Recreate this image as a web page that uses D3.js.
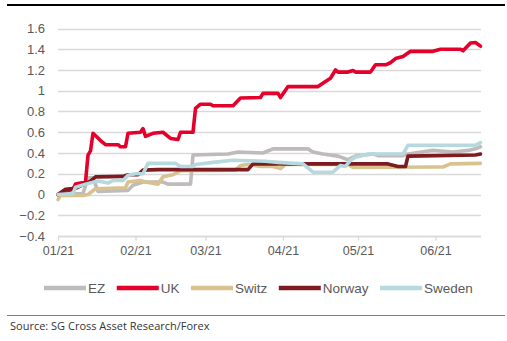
<!DOCTYPE html>
<html>
<head>
<meta charset="utf-8">
<script src="https://cdn.jsdelivr.net/npm/d3@7"></script>
<style>
  html, body { margin: 0; padding: 0; background: #ffffff; }
  svg { display: block; }
</style>
</head>
<body>
<svg id="chart" width="507" height="341"></svg>
<script>
// ---------------- DATA ----------------
const seriesNames = ["EZ", "UK", "Switz", "Norway", "Sweden"];
const yTickValues = [-0.4, -0.2, 0, 0.2, 0.4, 0.6, 0.8, 1, 1.2, 1.4, 1.6];
const xTickDates = ["2021-01-01", "2021-02-01", "2021-03-01", "2021-04-01", "2021-05-01", "2021-06-01"];
const xTickLabels = ["01/21", "02/21", "03/21", "04/21", "05/21", "06/21"];
const xDomain = ["2021-01-01", "2021-06-19"];
const sourceText = "Source: SG Cross Asset Research/Forex";

const ezPoints = [
  ["2021-01-01", 0], ["2021-01-11", 0.01], ["2021-01-13", 0.16], ["2021-01-15", 0.16],
  ["2021-01-17", 0.03], ["2021-01-29", 0.04], ["2021-01-31", 0.09], ["2021-02-04", 0.12],
  ["2021-02-12", 0.12], ["2021-02-14", 0.10], ["2021-02-23", 0.10], ["2021-02-24", 0.38],
  ["2021-03-10", 0.39], ["2021-03-14", 0.41], ["2021-03-24", 0.40], ["2021-03-28", 0.44],
  ["2021-04-11", 0.44], ["2021-04-13", 0.41], ["2021-04-17", 0.39], ["2021-04-23", 0.37],
  ["2021-04-27", 0.335], ["2021-04-30", 0.37], ["2021-05-07", 0.39], ["2021-05-09", 0.375],
  ["2021-05-19", 0.375], ["2021-05-21", 0.39], ["2021-05-31", 0.425], ["2021-06-08", 0.41],
  ["2021-06-14", 0.425], ["2021-06-17", 0.44], ["2021-06-19", 0.46]
];
const ukPoints = [
  ["2021-01-01", 0], ["2021-01-04", 0.03], ["2021-01-07", 0.05], ["2021-01-08", 0.10],
  ["2021-01-12", 0.12], ["2021-01-13", 0.38], ["2021-01-14", 0.42], ["2021-01-15", 0.59],
  ["2021-01-18", 0.52], ["2021-01-20", 0.48], ["2021-01-25", 0.48], ["2021-01-26", 0.46],
  ["2021-01-28", 0.46], ["2021-01-29", 0.59], ["2021-02-03", 0.60], ["2021-02-04", 0.635],
  ["2021-02-05", 0.56], ["2021-02-08", 0.59], ["2021-02-12", 0.60], ["2021-02-15", 0.54],
  ["2021-02-18", 0.53], ["2021-02-19", 0.60], ["2021-02-24", 0.60], ["2021-02-25", 0.83],
  ["2021-02-27", 0.87], ["2021-03-03", 0.87], ["2021-03-04", 0.855], ["2021-03-12", 0.855],
  ["2021-03-15", 0.93], ["2021-03-23", 0.935], ["2021-03-24", 0.975], ["2021-03-30", 0.975],
  ["2021-03-31", 0.935], ["2021-04-03", 1.04], ["2021-04-15", 1.04], ["2021-04-18", 1.09],
  ["2021-04-20", 1.12], ["2021-04-22", 1.20], ["2021-04-23", 1.18], ["2021-04-27", 1.18],
  ["2021-04-29", 1.195], ["2021-04-30", 1.18], ["2021-05-06", 1.18], ["2021-05-08", 1.25],
  ["2021-05-12", 1.25], ["2021-05-14", 1.27], ["2021-05-16", 1.31], ["2021-05-19", 1.33],
  ["2021-05-22", 1.38], ["2021-05-31", 1.38], ["2021-06-03", 1.40], ["2021-06-11", 1.40],
  ["2021-06-12", 1.385], ["2021-06-15", 1.46], ["2021-06-17", 1.465], ["2021-06-19", 1.43]
];
const switzPoints = [
  ["2021-01-01", -0.05], ["2021-01-02", -0.01], ["2021-01-11", -0.01], ["2021-01-13", 0.0],
  ["2021-01-16", 0.055], ["2021-01-28", 0.065], ["2021-01-29", 0.12], ["2021-02-03", 0.135],
  ["2021-02-05", 0.12], ["2021-02-10", 0.10], ["2021-02-12", 0.17], ["2021-02-16", 0.19],
  ["2021-02-19", 0.23], ["2021-03-13", 0.235], ["2021-03-15", 0.28], ["2021-03-18", 0.29],
  ["2021-03-23", 0.27], ["2021-03-28", 0.27], ["2021-03-31", 0.25], ["2021-04-02", 0.29],
  ["2021-04-27", 0.29], ["2021-04-29", 0.26], ["2021-05-31", 0.265], ["2021-06-04", 0.265],
  ["2021-06-07", 0.295], ["2021-06-19", 0.30]
];
const norwayPoints = [
  ["2021-01-01", 0], ["2021-01-04", 0.05], ["2021-01-08", 0.06], ["2021-01-14", 0.13],
  ["2021-01-16", 0.17], ["2021-01-27", 0.175], ["2021-01-29", 0.19], ["2021-02-02", 0.19],
  ["2021-02-04", 0.235], ["2021-02-10", 0.24], ["2021-03-18", 0.24], ["2021-03-20", 0.295],
  ["2021-05-13", 0.295], ["2021-05-17", 0.27], ["2021-05-20", 0.27], ["2021-05-21", 0.37],
  ["2021-06-17", 0.38], ["2021-06-19", 0.39]
];
const swedenPoints = [
  ["2021-01-01", 0], ["2021-01-07", 0.01], ["2021-01-08", 0.07], ["2021-01-12", 0.10],
  ["2021-01-17", 0.13], ["2021-01-21", 0.11], ["2021-01-23", 0.135], ["2021-01-27", 0.135],
  ["2021-01-29", 0.185], ["2021-02-01", 0.20], ["2021-02-04", 0.20], ["2021-02-06", 0.30],
  ["2021-02-17", 0.30], ["2021-02-19", 0.27], ["2021-02-24", 0.27], ["2021-02-25", 0.29],
  ["2021-03-04", 0.31], ["2021-03-12", 0.33], ["2021-03-25", 0.32], ["2021-03-30", 0.31],
  ["2021-04-09", 0.295], ["2021-04-13", 0.215], ["2021-04-21", 0.215], ["2021-04-24", 0.28],
  ["2021-04-26", 0.27], ["2021-04-28", 0.33], ["2021-04-30", 0.36], ["2021-05-05", 0.39],
  ["2021-05-19", 0.39], ["2021-05-21", 0.475], ["2021-06-17", 0.475], ["2021-06-19", 0.50]
];
const seriesPoints = [ezPoints, ukPoints, switzPoints, norwayPoints, swedenPoints];
const seriesColors = ["#bfbbbb", "#e4002b", "#d9c28f", "#7d1b20", "#b5d9de"];

// ---------------- CHART ----------------
const svg = d3.select("#chart");
const parse = d3.utcParse("%Y-%m-%d");

const x = d3.scaleUtc()
  .domain(xDomain.map(parse))
  .range([58, 480.5]);
const y = d3.scaleLinear()
  .domain([-0.4, 1.6])
  .range([236, 28.5]);

// top rule
svg.append("line")
  .attr("x1", 7).attr("x2", 505).attr("y1", 5).attr("y2", 5)
  .attr("stroke", "#000").attr("stroke-width", 2.2);

// gridlines
svg.append("g")
  .selectAll("line")
  .data(yTickValues)
  .join("line")
  .attr("x1", 58).attr("x2", 481)
  .attr("y1", d => Math.round(y(d)) + 0.5)
  .attr("y2", d => Math.round(y(d)) + 0.5)
  .attr("stroke", "#d9d9d9")
  .attr("stroke-width", 1.3);

// y axis labels
const yAxis = d3.axisLeft(y)
  .tickValues(yTickValues)
  .tickSize(0)
  .tickPadding(0)
  .tickFormat(d => d3.format("")(+d.toFixed(1)));
const gy = svg.append("g").attr("transform", "translate(45,0)").call(yAxis);
gy.select(".domain").remove();
gy.selectAll("text")
  .attr("fill", "#595959")
  .style("font-family", "'Liberation Sans', Arial, sans-serif")
  .style("font-size", "13px");

// x axis
const xAxis = d3.axisBottom(x)
  .tickValues(xTickDates.map(parse))
  .tickSize(4)
  .tickPadding(6)
  .tickFormat((d, i) => xTickLabels[i]);
const gx = svg.append("g").attr("transform", `translate(0,${Math.round(y(-0.4)) + 0.5})`).call(xAxis);
gx.select(".domain").attr("stroke", "#d9d9d9").attr("stroke-width", 1.3)
  .attr("d", `M58,0H481`);
gx.selectAll(".tick line").attr("stroke", "#d9d9d9").attr("stroke-width", 1.3);
gx.selectAll("text")
  .attr("fill", "#595959")
  .style("font-family", "'Liberation Sans', Arial, sans-serif")
  .style("font-size", "12.5px");

// lines
const line = d3.line()
  .x(d => x(parse(d[0])))
  .y(d => y(d[1]))
  .curve(d3.curveLinear);

svg.append("g")
  .selectAll("path")
  .data(seriesPoints)
  .join("path")
  .attr("d", d => line(d))
  .attr("fill", "none")
  .attr("stroke", (d, i) => seriesColors[i])
  .attr("stroke-width", 3.6)
  .attr("stroke-linejoin", "round")
  .attr("stroke-linecap", "round");

// legend
const legend = svg.append("g").attr("transform", "translate(0,288)");
let lx = 44;
seriesNames.forEach((name, i) => {
  legend.append("line")
    .attr("x1", lx).attr("x2", lx + 42)
    .attr("y1", 0).attr("y2", 0)
    .attr("stroke", seriesColors[i])
    .attr("stroke-width", 4.4);
  const t = legend.append("text")
    .attr("x", lx + 44)
    .attr("y", 0)
    .attr("dy", "0.35em")
    .attr("fill", "#595959")
    .style("font-family", "'Liberation Sans', Arial, sans-serif")
    .style("font-size", "13.5px")
    .text(name);
  lx = lx + 44 + t.node().getComputedTextLength() + 11.5;
});

// bottom rule
svg.append("line")
  .attr("x1", 7).attr("x2", 505).attr("y1", 315.5).attr("y2", 315.5)
  .attr("stroke", "#7f7f7f").attr("stroke-width", 1);

// source
svg.append("text")
  .attr("x", 10).attr("y", 330)
  .attr("fill", "#333333")
  .style("font-family", "'Open Sans', sans-serif")
  .style("font-size", "11px")
  .text(sourceText);
</script>
</body>
</html>
